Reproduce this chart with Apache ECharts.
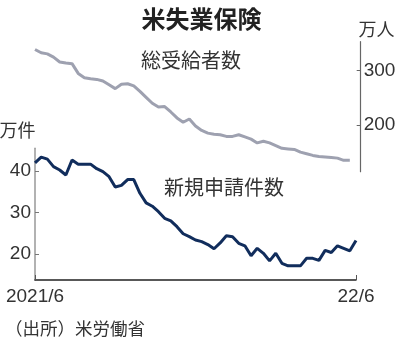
<!DOCTYPE html>
<html>
<head>
<meta charset="utf-8">
<script src="https://cdn.jsdelivr.net/npm/echarts@6/dist/echarts.min.js"></script>
<style>
  html, body { margin: 0; padding: 0; background: #fff; }
  #chart { width: 403px; height: 346px; }
</style>
</head>
<body>
<div id="chart"></div>
<script>
// Weekly US unemployment insurance figures, June 2021 – June 2022
const startDate = new Date(2021, 5, 5);
const weeks = [];
for (let i = 0; i < 53; i++) {
  const d = new Date(startDate.getTime() + i * 7 * 86400000);
  weeks.push(d.getFullYear() + '/' + (d.getMonth() + 1) + '/' + d.getDate());
}
const firstLabel = '2021/6';
const lastLabel = '22/6';

// 総受給者数 (万人) — continuing claims, one week behind initial claims
const continuingClaims = [
  339, 333, 331, 325, 316, 314, 313, 295, 287, 285,
  284, 281, 274, 267, 275, 276, 272, 262, 251, 240,
  233, 234, 224, 213, 205, 211, 198, 190, 185, 183,
  182, 179, 179, 182, 178, 174, 167, 170, 167, 162,
  157, 156, 155, 150, 147, 144, 142, 141, 140, 139,
  135, 135
];

// 新規申請件数 (万件) — initial claims
const initialClaims = [
  41.9, 43.3, 42.8, 41.0, 40.2, 39.0, 42.6, 41.6, 41.6, 41.6,
  40.5, 39.8, 38.6, 36.1, 36.5, 37.9, 37.9, 34.6, 32.3, 31.5,
  30.2, 28.6, 28.0, 26.6, 24.9, 24.2, 23.4, 23.0, 22.3, 21.3,
  22.7, 24.4, 24.2, 22.6, 22.0, 19.6, 21.4, 20.2, 18.4, 20.2,
  17.8, 17.2, 17.2, 17.2, 19.0, 19.0, 18.5, 20.9, 20.4, 22.0,
  21.4, 20.8, 23.3
];

const continuingTicks = [200, 300];
const initialTicks = [20, 30, 40];

const numFont = '"Liberation Sans Narrow", "Liberation Sans", sans-serif';
const jpFont = '"Noto Sans CJK JP", sans-serif';
const textColor = '#333';
const numSize = 19;

const chart = echarts.init(document.getElementById('chart'), null, { renderer: 'canvas' });

const edgeOnly = (idx) => idx === 0 || idx === weeks.length - 1;

chart.setOption({
  animation: false,
  backgroundColor: '#fff',
  grid: [
    { left: 35, right: 47, top: 41.7, height: 130, containLabel: false },
    { left: 35, right: 47, top: 148.3, height: 131.7, containLabel: false }
  ],
  xAxis: [
    {
      gridIndex: 0, type: 'category', data: weeks, boundaryGap: false,
      show: false
    },
    {
      gridIndex: 1, type: 'category', data: weeks, boundaryGap: false,
      axisLine: { lineStyle: { color: '#222', width: 1.5 } },
      axisTick: { inside: true, length: 5, interval: (i) => edgeOnly(i), lineStyle: { color: '#555' } },
      axisLabel: {
        interval: (i) => edgeOnly(i),
        formatter: (v, i) => (i === 0 ? firstLabel : lastLabel),
        fontFamily: numFont, fontSize: numSize, color: textColor, margin: 7
      },
      splitLine: { show: false }
    }
  ],
  yAxis: [
    {
      gridIndex: 0, type: 'value', position: 'right', offset: 4.7,
      min: 114, max: 353.4,
      axisLine: { show: true, lineStyle: { color: '#666', width: 1.2 } },
      axisTick: { show: true, inside: true, length: 4, customValues: continuingTicks, lineStyle: { color: '#666' } },
      axisLabel: { customValues: continuingTicks, fontFamily: numFont, fontSize: numSize, color: textColor, margin: 3 },
      splitLine: { show: false }
    },
    {
      gridIndex: 1, type: 'value', position: 'left',
      min: 13.8, max: 45.4,
      axisLine: { show: true, lineStyle: { color: '#999', width: 1.5 } },
      axisTick: { show: true, inside: true, length: 4, customValues: initialTicks, lineStyle: { color: '#777' } },
      axisLabel: { customValues: initialTicks, fontFamily: numFont, fontSize: numSize, color: textColor, margin: 4 },
      splitLine: { show: false }
    }
  ],
  series: [
    {
      name: '総受給者数', type: 'line', xAxisIndex: 0, yAxisIndex: 0,
      data: continuingClaims, showSymbol: false, smooth: false,
      lineStyle: { color: '#9ea1b0', width: 3 }
    },
    {
      name: '新規申請件数', type: 'line', xAxisIndex: 1, yAxisIndex: 1,
      data: initialClaims, showSymbol: false, smooth: false,
      lineStyle: { color: '#112d5c', width: 3 }
    }
  ],
  graphic: [
    { type: 'text', x: 201.5, y: 19, style: { text: '米失業保険', font: 'bold 24px ' + jpFont, fill: '#222', align: 'center', verticalAlign: 'middle' } },
    { type: 'text', x: 191, y: 60, style: { text: '総受給者数', font: '20px ' + jpFont, fill: textColor, align: 'center', verticalAlign: 'middle' } },
    { type: 'text', x: 224, y: 187.5, style: { text: '新規申請件数', font: '20px ' + jpFont, fill: textColor, align: 'center', verticalAlign: 'middle' } },
    { type: 'text', x: 376.5, y: 29, style: { text: '万人', font: '18px ' + jpFont, fill: textColor, align: 'center', verticalAlign: 'middle' } },
    { type: 'text', x: 17.5, y: 130, style: { text: '万件', font: '18px ' + jpFont, fill: textColor, align: 'center', verticalAlign: 'middle' } },
    { type: 'text', x: 5, y: 328, style: { text: '（出所）米労働省', font: '17.5px ' + jpFont, fill: textColor, align: 'left', verticalAlign: 'middle' } }
  ]
});
</script>
</body>
</html>
